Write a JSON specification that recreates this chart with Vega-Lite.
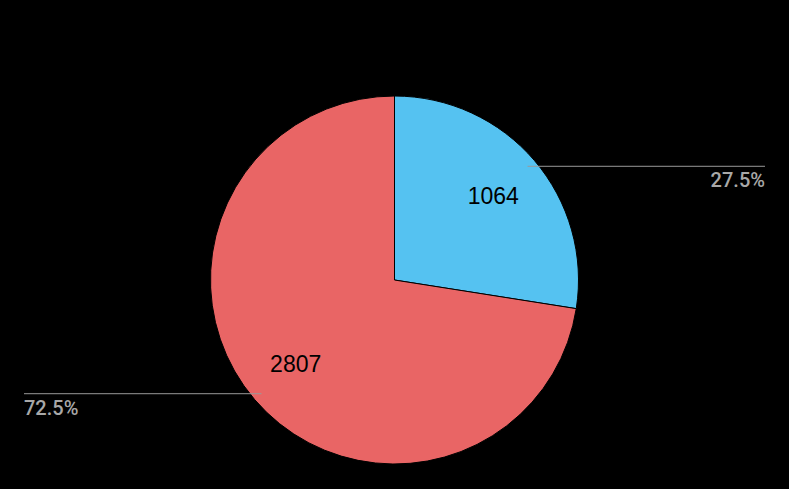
{
  "$schema": "https://vega.github.io/schema/vega-lite/v6.json",
  "width": 789,
  "height": 418,
  "autosize": {"type": "none"},
  "padding": {"top": 71, "left": 0, "right": 0, "bottom": 0},
  "background": "#000000",
  "config": {"view": {"stroke": null}},
  "data": {
    "values": [
      {"category": "A", "value": 1064, "order": 1},
      {"category": "B", "value": 2807, "order": 2}
    ]
  },
  "transform": [
    {"joinaggregate": [{"op": "sum", "field": "value", "as": "total"}]},
    {"window": [{"op": "sum", "field": "value", "as": "cum"}], "sort": [{"field": "order"}]},
    {"calculate": "2*PI*(datum.cum - datum.value/2)/datum.total", "as": "mid"},
    {"calculate": "format(datum.value/datum.total, '.1%')", "as": "pct"},
    {"calculate": "175*sin(datum.mid)", "as": "lx"},
    {"calculate": "175*cos(datum.mid)", "as": "ly"},
    {"calculate": "datum.lx > 0 ? 370.5 : -370.5", "as": "ex"}
  ],
  "layer": [
    {
      "mark": {"type": "arc", "outerRadius": 184, "stroke": "#000000", "strokeWidth": 1},
      "encoding": {
        "theta": {"field": "value", "type": "quantitative", "stack": true},
        "order": {"field": "order", "type": "quantitative"},
        "color": {"field": "category", "type": "nominal", "legend": null,
          "scale": {"domain": ["A", "B"], "range": ["#55C2F1", "#E96565"]}}
      }
    },
    {
      "mark": {"type": "text", "radius": 130, "fontSize": 23, "font": "Liberation Sans", "color": "#000000", "dy": 1},
      "encoding": {
        "theta": {"field": "value", "type": "quantitative", "stack": true},
        "order": {"field": "order", "type": "quantitative"},
        "text": {"field": "value", "type": "quantitative", "format": "d"}
      }
    },
    {
      "mark": {"type": "rule", "color": "#9a9a9a", "strokeWidth": 1},
      "encoding": {
        "x": {"field": "lx", "type": "quantitative", "axis": null, "scale": {"domain": [-394.5, 394.5], "nice": false, "zero": false}},
        "x2": {"field": "ex"},
        "y": {"field": "ly", "type": "quantitative", "axis": null, "scale": {"domain": [-209, 209], "nice": false, "zero": false}}
      }
    },
    {
      "mark": {"type": "text", "fontSize": 20, "fontWeight": 500, "font": "Roboto", "color": "#a8a8a8", "baseline": "middle", "dy": 15,
        "align": {"expr": "datum.lx > 0 ? 'right' : 'left'"}},
      "encoding": {
        "x": {"field": "ex", "type": "quantitative", "axis": null, "scale": {"domain": [-394.5, 394.5], "nice": false, "zero": false}},
        "y": {"field": "ly", "type": "quantitative", "axis": null, "scale": {"domain": [-209, 209], "nice": false, "zero": false}},
        "text": {"field": "pct", "type": "nominal"}
      }
    }
  ]
}
